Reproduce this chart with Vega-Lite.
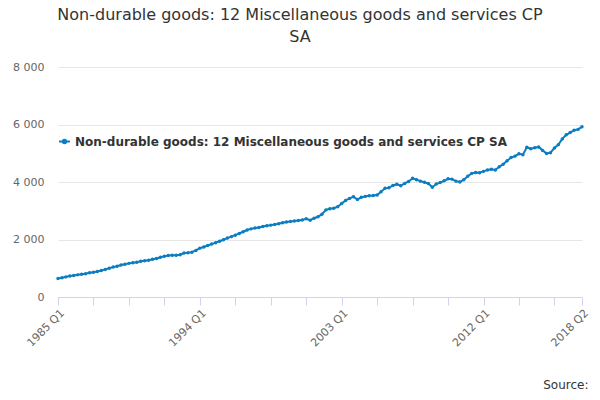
{
  "$schema": "https://vega.github.io/schema/vega-lite/v6.json",
  "autosize": "none",
  "width": 524,
  "height": 230,
  "padding": {"left": 58, "top": 67, "right": 18, "bottom": 103},
  "background": "white",
  "title": {
    "text": ["Non-durable goods: 12 Miscellaneous goods and services CP", "SA"],
    "font": "DejaVu Sans",
    "fontSize": 16,
    "fontWeight": "normal",
    "color": "#333333",
    "anchor": "middle",
    "dx": -20,
    "offset": 16,
    "lineHeight": 22
  },
  "config": {
    "view": {"stroke": null},
    "font": "DejaVu Sans"
  },
  "data": {
    "values": [
      {"q":"1985 Q1","v":640},{"q":"1985 Q2","v":670},{"q":"1985 Q3","v":700},{"q":"1985 Q4","v":730},
      {"q":"1986 Q1","v":750},{"q":"1986 Q2","v":770},{"q":"1986 Q3","v":790},{"q":"1986 Q4","v":810},
      {"q":"1987 Q1","v":840},{"q":"1987 Q2","v":860},{"q":"1987 Q3","v":890},{"q":"1987 Q4","v":920},
      {"q":"1988 Q1","v":960},{"q":"1988 Q2","v":1000},{"q":"1988 Q3","v":1040},{"q":"1988 Q4","v":1070},
      {"q":"1989 Q1","v":1110},{"q":"1989 Q2","v":1140},{"q":"1989 Q3","v":1170},{"q":"1989 Q4","v":1190},
      {"q":"1990 Q1","v":1210},{"q":"1990 Q2","v":1240},{"q":"1990 Q3","v":1260},{"q":"1990 Q4","v":1280},
      {"q":"1991 Q1","v":1310},{"q":"1991 Q2","v":1340},{"q":"1991 Q3","v":1380},{"q":"1991 Q4","v":1420},
      {"q":"1992 Q1","v":1440},{"q":"1992 Q2","v":1450},{"q":"1992 Q3","v":1450},{"q":"1992 Q4","v":1470},
      {"q":"1993 Q1","v":1530},{"q":"1993 Q2","v":1540},{"q":"1993 Q3","v":1560},{"q":"1993 Q4","v":1620},
      {"q":"1994 Q1","v":1700},{"q":"1994 Q2","v":1740},{"q":"1994 Q3","v":1790},{"q":"1994 Q4","v":1840},
      {"q":"1995 Q1","v":1890},{"q":"1995 Q2","v":1940},{"q":"1995 Q3","v":1990},{"q":"1995 Q4","v":2050},
      {"q":"1996 Q1","v":2100},{"q":"1996 Q2","v":2150},{"q":"1996 Q3","v":2210},{"q":"1996 Q4","v":2270},
      {"q":"1997 Q1","v":2330},{"q":"1997 Q2","v":2370},{"q":"1997 Q3","v":2400},{"q":"1997 Q4","v":2420},
      {"q":"1998 Q1","v":2450},{"q":"1998 Q2","v":2480},{"q":"1998 Q3","v":2500},{"q":"1998 Q4","v":2520},
      {"q":"1999 Q1","v":2550},{"q":"1999 Q2","v":2580},{"q":"1999 Q3","v":2610},{"q":"1999 Q4","v":2630},
      {"q":"2000 Q1","v":2640},{"q":"2000 Q2","v":2660},{"q":"2000 Q3","v":2680},{"q":"2000 Q4","v":2720},
      {"q":"2001 Q1","v":2670},{"q":"2001 Q2","v":2740},{"q":"2001 Q3","v":2790},{"q":"2001 Q4","v":2880},
      {"q":"2002 Q1","v":3030},{"q":"2002 Q2","v":3070},{"q":"2002 Q3","v":3090},{"q":"2002 Q4","v":3140},
      {"q":"2003 Q1","v":3250},{"q":"2003 Q2","v":3360},{"q":"2003 Q3","v":3430},{"q":"2003 Q4","v":3490},
      {"q":"2004 Q1","v":3390},{"q":"2004 Q2","v":3470},{"q":"2004 Q3","v":3500},{"q":"2004 Q4","v":3520},
      {"q":"2005 Q1","v":3530},{"q":"2005 Q2","v":3550},{"q":"2005 Q3","v":3660},{"q":"2005 Q4","v":3780},
      {"q":"2006 Q1","v":3800},{"q":"2006 Q2","v":3880},{"q":"2006 Q3","v":3920},{"q":"2006 Q4","v":3870},
      {"q":"2007 Q1","v":3950},{"q":"2007 Q2","v":4020},{"q":"2007 Q3","v":4130},{"q":"2007 Q4","v":4080},
      {"q":"2008 Q1","v":4030},{"q":"2008 Q2","v":3990},{"q":"2008 Q3","v":3950},{"q":"2008 Q4","v":3820},
      {"q":"2009 Q1","v":3930},{"q":"2009 Q2","v":3980},{"q":"2009 Q3","v":4040},{"q":"2009 Q4","v":4110},
      {"q":"2010 Q1","v":4100},{"q":"2010 Q2","v":4030},{"q":"2010 Q3","v":4000},{"q":"2010 Q4","v":4080},
      {"q":"2011 Q1","v":4200},{"q":"2011 Q2","v":4300},{"q":"2011 Q3","v":4330},{"q":"2011 Q4","v":4320},
      {"q":"2012 Q1","v":4370},{"q":"2012 Q2","v":4420},{"q":"2012 Q3","v":4440},{"q":"2012 Q4","v":4420},
      {"q":"2013 Q1","v":4530},{"q":"2013 Q2","v":4620},{"q":"2013 Q3","v":4740},{"q":"2013 Q4","v":4850},
      {"q":"2014 Q1","v":4900},{"q":"2014 Q2","v":4980},{"q":"2014 Q3","v":4950},{"q":"2014 Q4","v":5210},
      {"q":"2015 Q1","v":5160},{"q":"2015 Q2","v":5190},{"q":"2015 Q3","v":5220},{"q":"2015 Q4","v":5100},
      {"q":"2016 Q1","v":4990},{"q":"2016 Q2","v":5020},{"q":"2016 Q3","v":5180},{"q":"2016 Q4","v":5300},
      {"q":"2017 Q1","v":5500},{"q":"2017 Q2","v":5640},{"q":"2017 Q3","v":5720},{"q":"2017 Q4","v":5800},
      {"q":"2018 Q1","v":5830},{"q":"2018 Q2","v":5920}
    ]
  },
  "mark": {
    "type": "line",
    "strokeWidth": 2,
    "point": {"filled": true, "size": 12}
  },
  "encoding": {
    "x": {
      "field": "q",
      "type": "ordinal",
      "sort": null,
      "scale": {"type": "point", "padding": 0},
      "axis": {
        "values": ["1985 Q1","1987 Q2","1989 Q3","1991 Q4","1994 Q1","1996 Q2","1998 Q3","2000 Q4","2003 Q1","2005 Q2","2007 Q3","2009 Q4","2012 Q1","2014 Q2","2016 Q3","2018 Q2"],
        "labelExpr": "indexof(['1985 Q1','1994 Q1','2003 Q1','2012 Q1','2018 Q2'], datum.value) >= 0 ? datum.value : ''",
        "labelAngle": -45,
        "labelAlign": "right",
        "labelBaseline": "top",
        "labelColor": "#666666",
        "labelFontSize": 11,
        "labelOverlap": false,
        "domainColor": "#ccd6eb",
        "tickColor": "#ccd6eb",
        "tickSize": 8,
        "grid": false,
        "title": "Source:",
        "titleAnchor": "end",
        "titleAlign": "right",
        "titleX": 530,
        "titleY": 82,
        "titleFontWeight": "normal",
        "titleFontSize": 12,
        "titleColor": "#333333"
      }
    },
    "y": {
      "field": "v",
      "type": "quantitative",
      "scale": {"domain": [0, 8000]},
      "axis": {
        "values": [0, 2000, 4000, 6000, 8000],
        "labelExpr": "replace(format(datum.value, ','), ',', ' ')",
        "labelColor": "#666666",
        "labelFontSize": 11,
        "labelPadding": 14,
        "domain": false,
        "ticks": false,
        "gridColor": "#e6e6e6",
        "title": null
      }
    },
    "color": {
      "datum": "Non-durable goods: 12 Miscellaneous goods and services CP SA",
      "scale": {"range": ["#0b7dc1"]},
      "legend": {
        "orient": "none",
        "legendX": 0,
        "legendY": 68,
        "title": null,
        "labelFontSize": 12,
        "labelFontWeight": "bold",
        "labelColor": "#333333",
        "labelLimit": 600,
        "symbolType": "M-1,0L1,0M0.3,0A0.3,0.3 0 1 1 -0.3,0A0.3,0.3 0 1 1 0.3,0",
        "symbolStrokeWidth": 2,
        "symbolSize": 120
      }
    }
  }
}
